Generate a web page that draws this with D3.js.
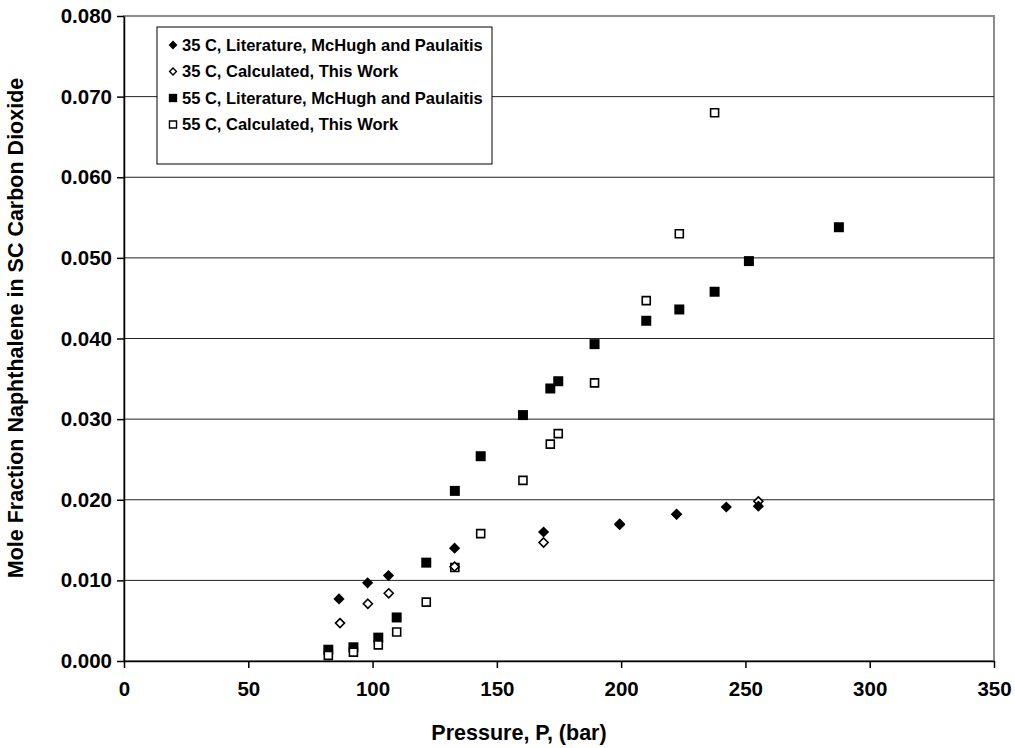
<!DOCTYPE html>
<html>
<head>
<meta charset="utf-8">
<script src="https://cdn.jsdelivr.net/npm/d3@7"></script>
<style>
  body { margin: 0; background: #fff; }
  text { font-family: "Liberation Sans", Arial, sans-serif; font-weight: bold; fill: #000; }
</style>
</head>
<body>
<div id="chart"></div>
<script>
const svgWidth = 1015
const svgHeight = 748
let margin = { top: 16, right: 21, bottom: 87, left: 124 }
let width = svgWidth - margin.left - margin.right
let height = svgHeight - margin.top - margin.bottom

// 35 C, literature (McHugh and Paulaitis)
let lit35P = [86.5, 98, 106.4, 133, 168.8, 199.4, 222.3, 242.3, 255.2]
let lit35Y = [0.0077, 0.0097, 0.0106, 0.0140, 0.0160, 0.0169, 0.0182, 0.0191, 0.0192]
// 35 C, calculated
let calc35P = [86.9, 98.1, 106.5, 133, 168.8, 199.4, 222.3, 255.2]
let calc35Y = [0.0047, 0.0071, 0.0084, 0.0117, 0.0147, 0.0170, 0.0182, 0.0198]
// 55 C, literature
let lit55P = [82.2, 92.3, 102.3, 109.7, 121.6, 133.1, 143.5, 160.5, 171.5, 174.7, 189.3, 210.1, 223.4, 237.6, 251.4, 287.6]
let lit55Y = [0.0014, 0.0017, 0.0029, 0.0054, 0.0122, 0.0211, 0.0254, 0.0305, 0.0338, 0.0347, 0.0393, 0.0422, 0.0436, 0.0458, 0.0496, 0.0538]
// 55 C, calculated
let calc55P = [82.2, 92.3, 102.3, 109.7, 121.6, 133.1, 143.5, 160.5, 171.5, 174.7, 189.3, 210.1, 223.4, 237.6]
let calc55Y = [0.0007, 0.0011, 0.0020, 0.0036, 0.0073, 0.0116, 0.0158, 0.0224, 0.0269, 0.0282, 0.0345, 0.0447, 0.0530, 0.0680]

let xTicks = [0, 50, 100, 150, 200, 250, 300, 350]
let yTicks = [0, 0.01, 0.02, 0.03, 0.04, 0.05, 0.06, 0.07, 0.08]
let legendLabels = [
  "35 C, Literature, McHugh and Paulaitis",
  "35 C, Calculated, This Work",
  "55 C, Literature, McHugh and Paulaitis",
  "55 C, Calculated, This Work"
]

let svg = d3.select("#chart")
  .append("svg")
  .attr("width", svgWidth)
  .attr("height", svgHeight)
let chartGroup = svg.append("g")
  .attr("transform", `translate(${margin.left}, ${margin.top})`)

let x = d3.scaleLinear().domain([0, 350]).range([0, width])
let y = d3.scaleLinear().domain([0, 0.08]).range([height, 0])

// plot area border (grey top / right)
chartGroup.append("rect")
  .attr("x", 0).attr("y", 0)
  .attr("width", width).attr("height", height)
  .attr("fill", "none")
  .attr("stroke", "#8c8c8c")
  .attr("stroke-width", 2)

// gridlines
chartGroup.selectAll(".grid")
  .data(yTicks.slice(1, -1))
  .enter()
  .append("line")
  .attr("x1", 0).attr("x2", width)
  .attr("y1", d => y(d)).attr("y2", d => y(d))
  .attr("stroke", "#222")
  .attr("stroke-width", 1)

let bottomAxis = d3.axisBottom(x).tickValues(xTicks).tickSize(7).tickSizeOuter(0).tickPadding(13)
let leftAxis = d3.axisLeft(y).tickValues(yTicks).tickFormat(d3.format(".3f")).tickSize(7).tickSizeOuter(0).tickPadding(5)

let xAxis = chartGroup.append("g")
  .attr("transform", `translate(0, ${height})`)
  .call(bottomAxis)
let yAxis = chartGroup.append("g").call(leftAxis)

;[xAxis, yAxis].forEach(a => {
  a.select(".domain").attr("stroke", "#000").attr("stroke-width", 1.5)
  a.selectAll(".tick line").attr("stroke", "#000").attr("stroke-width", 1.5)
  a.selectAll(".tick text").style("font-size", "20.5px").style("font-family", "Liberation Sans, Arial, sans-serif").style("font-weight", "bold").attr("fill", "#000")
})

// markers
let squareFilled = d3.symbol().type(d3.symbolSquare).size(100)
let squareOpen = d3.symbol().type(d3.symbolSquare).size(64)
let diamond = d3.symbol().type(d3.symbolDiamond2).size(80)
let diamondOpen = d3.symbol().type(d3.symbolDiamond2).size(52)

function drawSeries(xs, ys, sym, fill, stroke, sw) {
  chartGroup.append("g")
    .selectAll("path")
    .data(xs.map((p, i) => [p, ys[i]]))
    .enter()
    .append("path")
    .attr("d", sym)
    .attr("transform", d => `translate(${x(d[0])}, ${y(d[1])})`)
    .attr("fill", fill)
    .attr("stroke", stroke)
    .attr("stroke-width", sw)
}

drawSeries(lit55P, lit55Y, squareFilled, "#000", "none", 0)
drawSeries(calc55P, calc55Y, squareOpen, "#fff", "#000", 1.6)
drawSeries(calc35P, calc35Y, diamondOpen, "#fff", "#000", 1.6)
drawSeries(lit35P, lit35Y, diamond, "#000", "none", 0)

// legend
let legend = svg.append("g").attr("transform", "translate(157, 27)")
legend.append("rect")
  .attr("width", 335).attr("height", 137)
  .attr("fill", "#fff")
  .attr("stroke", "#000")
  .attr("stroke-width", 1)
let legendSyms = [
  [d3.symbol().type(d3.symbolDiamond2).size(50), "#000", "none", 0],
  [d3.symbol().type(d3.symbolDiamond2).size(30), "#fff", "#000", 1.4],
  [d3.symbol().type(d3.symbolSquare).size(70), "#000", "none", 0],
  [d3.symbol().type(d3.symbolSquare).size(50), "#fff", "#000", 1.4]
]
let rows = legend.selectAll(".row")
  .data(legendLabels)
  .enter()
  .append("g")
  .attr("transform", (d, i) => `translate(0, ${18 + i * 26.5})`)
rows.append("path")
  .attr("d", (d, i) => legendSyms[i][0]())
  .attr("transform", "translate(16, 0)")
  .attr("fill", (d, i) => legendSyms[i][1])
  .attr("stroke", (d, i) => legendSyms[i][2])
  .attr("stroke-width", (d, i) => legendSyms[i][3])
rows.append("text")
  .attr("x", 25)
  .attr("dy", "0.36em")
  .style("font-size", "16.5px")
  .text(d => d)

// axis titles
svg.append("text")
  .attr("x", 519)
  .attr("y", 740)
  .attr("text-anchor", "middle")
  .style("font-size", "21.5px")
  .text("Pressure, P, (bar)")
svg.append("text")
  .attr("transform", "translate(23, 328) rotate(-90)")
  .attr("text-anchor", "middle")
  .style("font-size", "21.5px")
  .text("Mole Fraction Naphthalene in SC Carbon Dioxide")
</script>
</body>
</html>
